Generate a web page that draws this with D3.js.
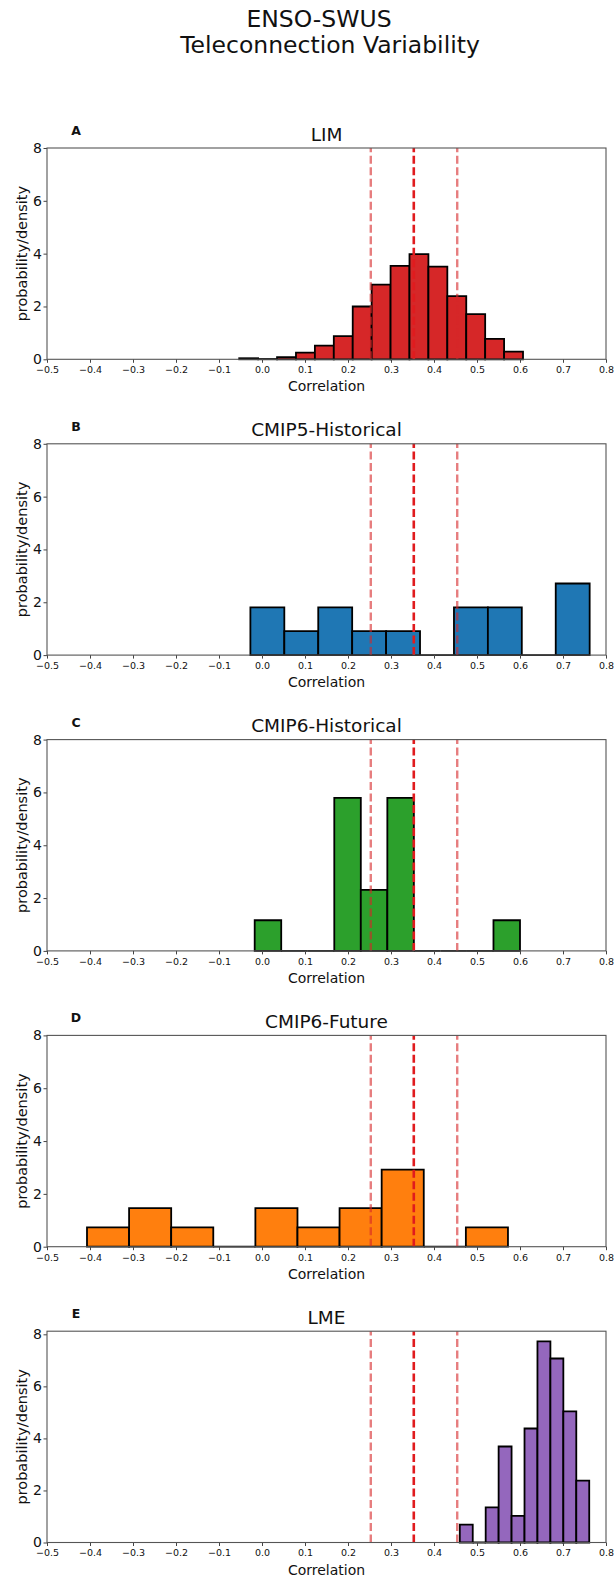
<!DOCTYPE html>
<html>
<head>
<meta charset="utf-8">
<script src="https://cdn.jsdelivr.net/npm/d3@7"></script>
<style>
  html, body { margin: 0; padding: 0; background: #fff; }
  svg { display: block; font-family: "DejaVu Sans", sans-serif; }
</style>
</head>
<body>
<div id="chart"></div>
<script>
// ---------- data ----------
const mainTitle = ["ENSO-SWUS", "Teleconnection Variability"];
const panelLetters = ["A", "B", "C", "D", "E"];
const panelTitles = ["LIM", "CMIP5-Historical", "CMIP6-Historical", "CMIP6-Future", "LME"];
const panelColors = ["#d62728", "#1f77b4", "#2ca02c", "#ff7f0e", "#9467bd"];

// histogram ranges (first edge, last edge) and densities per bin
const limRange = [-0.053, 0.607];
const limDensity = [0.04, 0.01, 0.08, 0.25, 0.52, 0.88, 2.0, 2.83, 3.54, 3.98, 3.51, 2.39, 1.71, 0.77, 0.29];
const cmip5Range = [-0.027, 0.762];
const cmip5Density = [1.81, 0.905, 1.81, 0.905, 0.905, 0, 1.81, 1.81, 0, 2.71];
const cmip6HistRange = [-0.017, 0.600];
const cmip6HistDensity = [1.16, 0, 0, 5.79, 2.31, 5.79, 0, 0, 0, 1.16];
const cmip6FutRange = [-0.407, 0.572];
const cmip6FutDensity = [0.73, 1.46, 0.73, 0, 1.46, 0.73, 1.46, 2.92, 0, 0.73];
const lmeRange = [0.460, 0.761];
const lmeDensity = [0.69, 0, 1.35, 3.69, 1.02, 4.38, 7.73, 7.07, 5.04, 2.38];

const panelRanges = [limRange, cmip5Range, cmip6HistRange, cmip6FutRange, lmeRange];
const panelDensities = [limDensity, cmip5Density, cmip6HistDensity, cmip6FutDensity, lmeDensity];
const panelYMax = [8, 8, 8, 8, 8.12];

// reference lines: lower bound, observed, upper bound
const refLines = [0.253, 0.353, 0.454];
const refIsCenter = [false, true, false];

const xTicks = [-0.5, -0.4, -0.3, -0.2, -0.1, 0.0, 0.1, 0.2, 0.3, 0.4, 0.5, 0.6, 0.7, 0.8];
const yTicks = [0, 2, 4, 6, 8];
const xDomain = [-0.5, 0.8];
const xLabel = "Correlation";
const yLabel = "probability/density";

// ---------- layout ----------
const W = 616, H = 1579;
const left = 47, right = 606;
const firstTop = 148, panelStep = 295.8, plotH = 211.3;

const svg = d3.select("#chart").append("svg")
  .attr("width", W).attr("height", H).attr("viewBox", `0 0 ${W} ${H}`);

svg.append("text").attr("x", 319).attr("y", 27).attr("text-anchor", "middle")
  .attr("font-size", 23.5).attr("fill", "#111").text(mainTitle[0]);
svg.append("text").attr("x", 330).attr("y", 53).attr("text-anchor", "middle")
  .attr("font-size", 23.5).attr("fill", "#111").text(mainTitle[1]);

const x = d3.scaleLinear().domain(xDomain).range([left, right]);
const fmt = d3.format(".1f");

panelTitles.forEach((title, i) => {
  const top = firstTop + i * panelStep;
  const bottom = top + plotH;
  const y = d3.scaleLinear().domain([0, panelYMax[i]]).range([bottom, top]);
  const g = svg.append("g");

  // bars
  const dens = panelDensities[i];
  const [lo, hi] = panelRanges[i];
  const n = dens.length;
  const bins = dens.map((d, k) => ({
    x0: lo + (hi - lo) * k / n,
    x1: lo + (hi - lo) * (k + 1) / n,
    d
  }));
  g.append("g").selectAll("path").data(bins).join("path")
    .attr("d", b => `M${x(b.x0)},${y(0)}V${y(b.d)}H${x(b.x1)}V${y(0)}Z`)
    .attr("fill", panelColors[i])
    .attr("stroke", "#000")
    .attr("stroke-width", 1.8)
    .attr("stroke-linejoin", "miter");

  // reference dashed lines
  g.append("g").selectAll("line").data(refLines).join("line")
    .attr("x1", d => x(d)).attr("x2", d => x(d))
    .attr("y1", bottom).attr("y2", top)
    .attr("stroke", (d, k) => refIsCenter[k] ? "#e01b1e" : "#d62728")
    .attr("stroke-opacity", (d, k) => refIsCenter[k] ? 1 : 0.6)
    .attr("stroke-width", (d, k) => refIsCenter[k] ? 2.6 : 2.4)
    .attr("stroke-dasharray", "8,3.5");

  // axes
  const xAxis = g.append("g").attr("transform", `translate(0,${bottom})`)
    .call(d3.axisBottom(x).tickValues(xTicks).tickFormat(fmt).tickSize(3.5).tickPadding(3.6));
  xAxis.select(".domain").remove();
  xAxis.selectAll(".tick line").attr("stroke", "#444").attr("stroke-width", 1);
  xAxis.selectAll(".tick text").attr("font-size", 9.5).attr("fill", "#111")
    .attr("font-family", "DejaVu Sans, sans-serif");

  const yAxis = g.append("g").attr("transform", `translate(${left},0)`)
    .call(d3.axisLeft(y).tickValues(yTicks).tickFormat(d3.format("d")).tickSize(3.5).tickPadding(1.5));
  yAxis.select(".domain").remove();
  yAxis.selectAll(".tick line").attr("stroke", "#444").attr("stroke-width", 1);
  yAxis.selectAll(".tick text").attr("font-size", 14).attr("fill", "#111")
    .attr("font-family", "DejaVu Sans, sans-serif");

  // frame
  g.append("rect").attr("x", left).attr("y", top)
    .attr("width", right - left).attr("height", plotH)
    .attr("fill", "none").attr("stroke", "#555").attr("stroke-width", 1.1);

  // labels
  g.append("text").attr("x", (left + right) / 2).attr("y", top - 7.5)
    .attr("text-anchor", "middle").attr("font-size", 18.5).attr("fill", "#111").text(title);
  g.append("text").attr("x", 76).attr("y", top - 13)
    .attr("text-anchor", "middle").attr("font-size", 12.5).attr("font-weight", "bold")
    .attr("fill", "#111").text(panelLetters[i]);
  g.append("text").attr("x", (left + right) / 2).attr("y", bottom + 32)
    .attr("text-anchor", "middle").attr("font-size", 14).attr("fill", "#111").text(xLabel);
  g.append("text")
    .attr("transform", `translate(27,${(top + bottom) / 2}) rotate(-90)`)
    .attr("text-anchor", "middle").attr("font-size", 14.5).attr("fill", "#111").text(yLabel);
});
</script>
</body>
</html>
